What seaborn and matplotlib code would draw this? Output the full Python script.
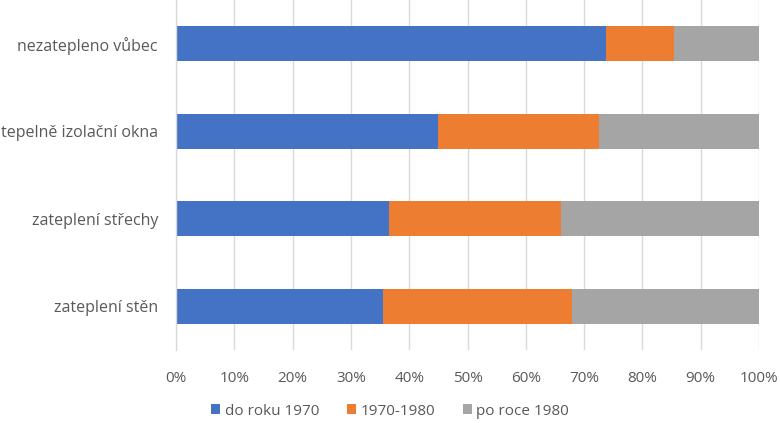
import matplotlib
matplotlib.use("Agg")
import matplotlib.pyplot as plt
import seaborn as sns
import pandas as pd
import numpy as np
from matplotlib.patches import Patch
from matplotlib.ticker import PercentFormatter

categories = ["nezatepleno vůbec", "tepelně izolační okna", "zateplení střechy", "zateplení stěn"]
series = ["do roku 1970", "1970-1980", "po roce 1980"]
do_roku_1970 = [73.7, 45.0, 36.5, 35.5]
r1970_1980 = [11.8, 27.6, 29.5, 32.4]
po_roce_1980 = [14.5, 27.4, 34.0, 32.1]
colors = ["#4472C4", "#ED7D31", "#A5A5A5"]

sns.set_theme(style="white")
plt.rcParams['font.family'] = ['Open Sans', 'DejaVu Sans']

vals = np.array([do_roku_1970, r1970_1980, po_roce_1980])
cum = np.cumsum(vals, axis=0)

fig = plt.figure(figsize=(7.8, 4.23), dpi=100)
ax = fig.add_axes([176/780, 1 - 350/423, (759-176)/780, 350/423])

for i in reversed(range(3)):
    df = pd.DataFrame({"cat": categories, "val": cum[i]})
    sns.barplot(data=df, x="val", y="cat", color=colors[i], width=0.4,
                orient="h", ax=ax, saturation=1, linewidth=0)

ax.set_xlim(0, 100)
ax.set_xticks(np.arange(0, 101, 10))
ax.xaxis.set_major_formatter(PercentFormatter(decimals=0))
ax.set_xlabel("")
ax.set_ylabel("")
ax.grid(axis="x", color="#D9D9D9", linewidth=1)
ax.set_axisbelow(True)
for s in ["top", "right", "bottom"]:
    ax.spines[s].set_visible(False)
ax.spines["left"].set_color("#D9D9D9")
ax.spines["left"].set_linewidth(1)
ax.tick_params(axis="both", length=0, labelsize=11, colors="#595959")
ax.tick_params(axis="y", pad=13, labelsize=11.5)
ax.tick_params(axis="x", pad=15)
ax.set_ylim(3.5, -0.5)

handles = [Patch(facecolor=c, edgecolor="none") for c in colors]
fig.legend(handles, series, loc="center", bbox_to_anchor=(0.5, 1 - 411/423),
           ncol=3, frameon=False, fontsize=11, handlelength=0.6, handleheight=0.6,
           handletextpad=0.3, columnspacing=1.8, labelcolor="#595959")

fig.savefig("out.png", dpi=100)
